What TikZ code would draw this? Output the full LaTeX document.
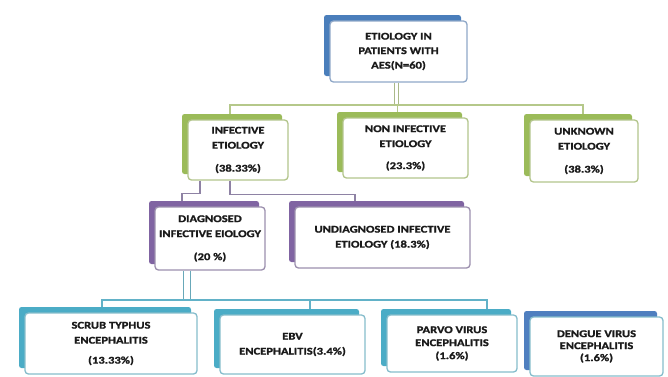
\documentclass[tikz,border=0pt]{standalone}
\usepackage{fontspec}
\newfontfamily\boxfont{Carlito}[FakeStretch=1.22, BoldFont={Carlito Bold}, BoldFeatures={FakeStretch=1.22, FakeBold=1.4}]
\definecolor{bluB}{HTML}{4A7EBB}
\definecolor{bluF}{HTML}{8FA8C8}
\definecolor{grnB}{HTML}{9BBB59}
\definecolor{grnF}{HTML}{B3C58C}
\definecolor{purB}{HTML}{8064A2}
\definecolor{purF}{HTML}{9C90AE}
\definecolor{tealB}{HTML}{4BACC6}
\definecolor{tealF}{HTML}{86BDCC}
\definecolor{dengB}{HTML}{4F7FBF}
\definecolor{txt}{HTML}{1A1A1A}
\definecolor{grnLine}{HTML}{B5C88A}
\definecolor{purLine}{HTML}{8E82A4}
\definecolor{tealLine}{HTML}{62B2C8}
\begin{document}
\begin{tikzpicture}[x=1pt,y=-1pt,
  back/.style={fill=#1, rounded corners=2.5pt, inner sep=0pt},
  front/.style={draw=#1, line width=1.3pt, rounded corners=3.5pt, fill=white,
    inner sep=0pt, align=center, text=txt,
    font=\boxfont\bfseries\fontsize{10.3}{15}\selectfont},
  rootdbl/.style={draw=grnLine!80!gray, line width=1.2pt, double=white, double distance=3pt},
  grnbus/.style={draw=grnLine, line width=1.6pt},
  purp/.style={draw=purLine, line width=1.4pt},
  tealdbl/.style={draw=tealLine!80!gray, line width=1.4pt, double=white, double distance=5.5pt},
  tealbus/.style={draw=tealLine, line width=1.6pt}]
\useasboundingbox (0,0) rectangle (668,376);
\fill[white] (0,0) rectangle (668,376);

% root
\node[back=bluB, minimum width=137pt, minimum height=61pt] (rootB) at (392.5,45.5) {};
\node[front=bluF, minimum width=137pt, minimum height=61pt,
  font=\boxfont\bfseries\fontsize{10.3}{14.5}\selectfont] (root) at (398.5,51.5)
  {ETIOLOGY IN\\PATIENTS WITH\\AES(N=60)};

% level 1
\node[back=grnB, minimum width=100pt, minimum height=60pt] (infB) at (232,144) {};
\node[front=grnF, minimum width=100pt, minimum height=60pt] (inf) at (238,150)
  {INFECTIVE\\ETIOLOGY\\[8pt](38.33\%)};
\node[back=grnB, minimum width=125pt, minimum height=60pt] (nonB) at (399.5,142) {};
\node[front=grnF, minimum width=125pt, minimum height=60pt] (non) at (405.5,148)
  {NON INFECTIVE\\ETIOLOGY\\[7pt](23.3\%)};
\node[back=grnB, minimum width=108pt, minimum height=62pt] (unkB) at (578,145) {};
\node[front=grnF, minimum width=108pt, minimum height=62pt] (unk) at (584,151)
  {UNKNOWN\\ETIOLOGY\\[8pt](38.3\%)};

% level 2
\node[back=purB, minimum width=110pt, minimum height=63pt] (diagB) at (204,232.5) {};
\node[front=purF, minimum width=110pt, minimum height=63pt] (diag) at (210,238.5)
  {DIAGNOSED\\INFECTIVE EIOLOGY\\[8pt](20 \%)};
\node[back=purB, minimum width=175pt, minimum height=61pt] (undB) at (376.5,231.5) {};
\node[front=purF, minimum width=175pt, minimum height=61pt] (und) at (382.5,237.5)
  {UNDIAGNOSED INFECTIVE\\ETIOLOGY (18.3\%)};

% level 3
\node[back=tealB, minimum width=172pt, minimum height=61pt] (scrubB) at (105,337.5) {};
\node[front=tealF, minimum width=172pt, minimum height=61pt] (scrub) at (111,343.5)
  {SCRUB TYPHUS\\ENCEPHALITIS\\[5pt](13.33\%)};
\node[back=tealB, minimum width=145pt, minimum height=59pt] (ebvB) at (286.5,338.5) {};
\node[front=tealF, minimum width=145pt, minimum height=59pt] (ebv) at (292.5,344.5)
  {EBV\\ENCEPHALITIS(3.4\%)};
\node[back=tealB, minimum width=130pt, minimum height=57pt] (parB) at (446,337.5) {};
\node[front=tealF, minimum width=130pt, minimum height=57pt,
  font=\boxfont\bfseries\fontsize{10.3}{13}\selectfont] (par) at (452,343.5)
  {PARVO VIRUS\\ENCEPHALITIS\\(1.6\%)};
\node[back=dengB, minimum width=133pt, minimum height=59pt] (denB) at (590.5,340.5) {};
\node[front=tealF, minimum width=133pt, minimum height=59pt,
  font=\boxfont\bfseries\fontsize{10.3}{12}\selectfont] (den) at (596.5,346.5)
  {DENGUE VIRUS\\ENCEPHALITIS\\(1.6\%)};

% connectors level 0 -> 1
\coordinate (bus1) at (397,105);
\draw[rootdbl] ([xshift=-2pt]root.south) -- ([xshift=-2pt]root.south |- bus1);
\draw[grnbus] ([xshift=-2pt]infB.north) |- (bus1) -| ([xshift=5pt]unkB.north);
\draw[grnbus] ([xshift=-2pt]nonB.north) -- ([xshift=-2pt]nonB.north |- bus1);

% connectors level 1 -> 2
\draw[purp] ([xshift=-38pt]inf.south) -- ++(0,13) -| ([xshift=-22pt]diagB.north);
\draw[purp] ([xshift=-8pt]inf.south) -- ++(0,14) -| ([xshift=-21.5pt]undB.north);

% connectors level 2 -> 3
\coordinate (bus3) at (187,300);
\draw[tealdbl] ([xshift=-23pt]diag.south) -- (bus3);
\draw[tealbus] ([xshift=-3pt]scrubB.north) |- (bus3) -| ([xshift=41pt]parB.north);
\draw[tealbus] ([xshift=23.5pt]ebvB.north) -- ([xshift=23.5pt]ebvB.north |- bus3);
\end{tikzpicture}
\end{document}
